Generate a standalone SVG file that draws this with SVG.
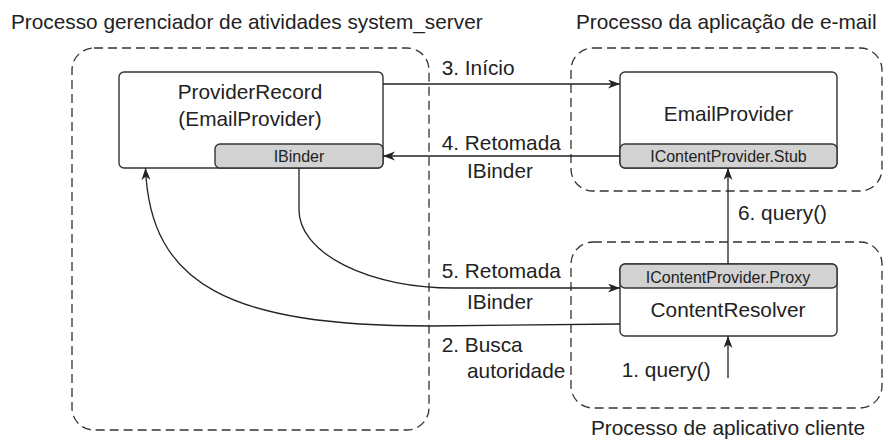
<svg xmlns="http://www.w3.org/2000/svg" width="884" height="439" viewBox="0 0 884 439">
<defs>
<marker id="ah" markerUnits="userSpaceOnUse" markerWidth="13" markerHeight="10" refX="12" refY="4.5" orient="auto">
<path d="M0,0 L12,4.5 L0,9 L3.5,4.5 z" fill="#222"/>
</marker>
</defs>
<style>
.t{font-family:"Liberation Sans",Arial,sans-serif;font-size:20.8px;fill:#222}
.s{font-family:"Liberation Sans",Arial,sans-serif;font-size:16px;fill:#222}
.m{text-anchor:middle}
.proc{fill:none;stroke:#333;stroke-width:1.3;stroke-dasharray:9 5}
.box{fill:#fff;stroke:#333;stroke-width:1.4}
.sub{fill:#d2d2d2;stroke:#333;stroke-width:1.4}
.c{fill:none;stroke:#222;stroke-width:1.3;marker-end:url(#ah)}
</style>
<rect width="884" height="439" fill="#fff"/>
<g id="proc-system">
<rect class="proc" x="72" y="48" width="357" height="382" rx="22"/>
<text class="t" x="11" y="29">Processo gerenciador de atividades system_server</text>
</g>
<g id="proc-email">
<rect class="proc" x="571" y="48" width="311" height="143" rx="22"/>
<text class="t" x="576" y="29">Processo da aplicação de e-mail</text>
</g>
<g id="proc-client">
<rect class="proc" x="571" y="242" width="311" height="166" rx="22"/>
<text class="t m" x="728" y="435">Processo de aplicativo cliente</text>
</g>
<g id="provider-record">
<rect class="box" x="119" y="72" width="264" height="96" rx="5"/>
<text class="t m" x="250" y="98.5">ProviderRecord</text>
<text class="t m" x="250" y="126">(EmailProvider)</text>
<rect class="sub" x="215" y="144" width="168" height="24" rx="5"/>
<text class="s m" x="299" y="162">IBinder</text>
</g>
<g id="email-provider">
<rect class="box" x="620" y="72" width="217" height="96" rx="5"/>
<text class="t m" x="728.5" y="120.5">EmailProvider</text>
<rect class="sub" x="620" y="144" width="217" height="24" rx="5"/>
<text class="s m" x="728.5" y="162">IContentProvider.Stub</text>
</g>
<g id="content-resolver">
<rect class="box" x="620" y="264" width="217" height="72" rx="5"/>
<rect class="sub" x="620" y="264" width="217" height="24" rx="5"/>
<text class="s m" x="728" y="282.5">IContentProvider.Proxy</text>
<text class="t m" x="728" y="317">ContentResolver</text>
</g>
<g id="connectors">
<path class="c" d="M383,84 L620,84"/>
<text class="t" x="441.7" y="75">3. Início</text>
<path class="c" d="M620,156 L383,156"/>
<text class="t" x="441.7" y="150">4. Retomada</text>
<text class="t" x="467" y="178">IBinder</text>
<path class="c" d="M299,168 L299,210 A154,78 0 0 0 453,288 L620,288"/>
<text class="t" x="441.7" y="278">5. Retomada</text>
<text class="t" x="467" y="309">IBinder</text>
<path class="c" d="M620,324 L430,326 C230,326 150,285 145.5,168"/>
<text class="t" x="441.7" y="352">2. Busca</text>
<text class="t" x="467" y="378">autoridade</text>
<path class="c" d="M728,264 L728,168"/>
<text class="t" x="738" y="220">6. query()</text>
<path class="c" d="M728,378 L728,336"/>
<text class="t" x="621.7" y="377">1. query()</text>
</g>
</svg>
